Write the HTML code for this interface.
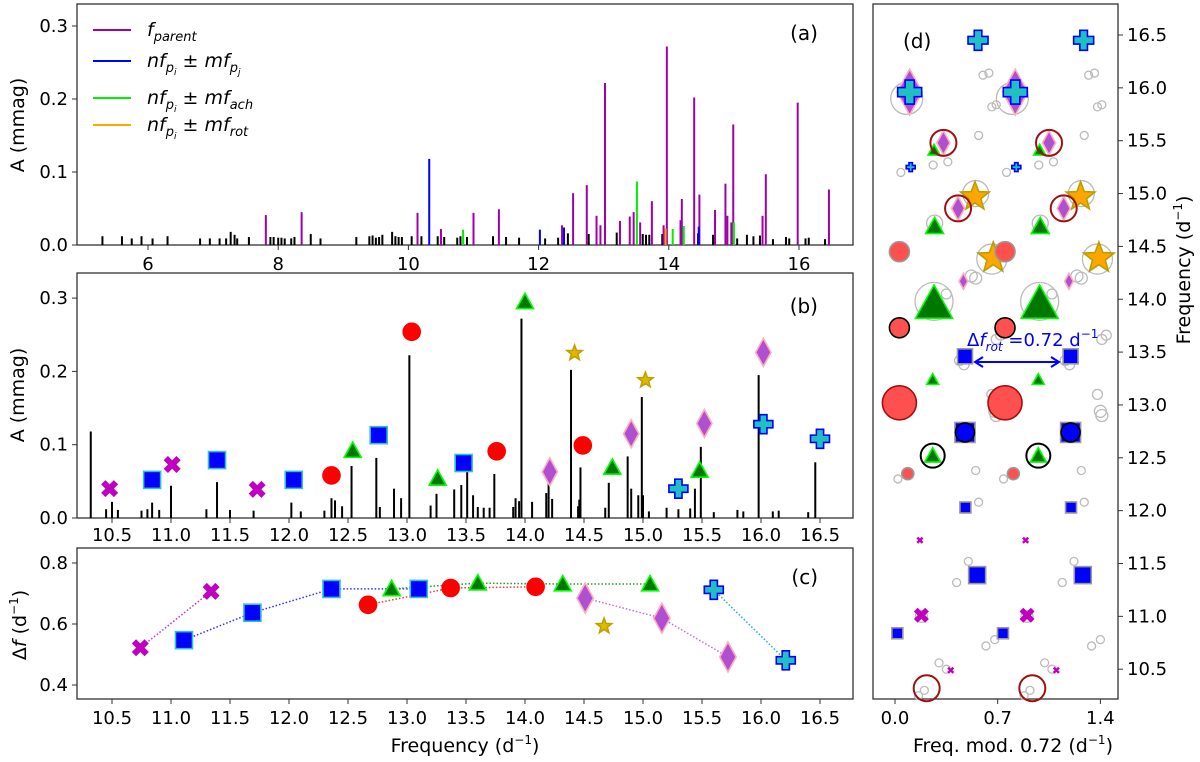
<!DOCTYPE html>
<html><head><meta charset="utf-8">
<style>
html,body{margin:0;padding:0;background:#fff;}
svg{display:block;font-family:"DejaVu Sans","Liberation Sans",sans-serif;}
</style></head>
<body>
<svg id="fig" width="1200" height="762" viewBox="0 0 1200 762" xmlns="http://www.w3.org/2000/svg">
<g id="gA"></g>
<g id="gB"></g>
<g id="gC"></g>
<g id="gD"></g>
<g font-size="19" font-style="italic">
  <line x1="93" y1="30" x2="131" y2="30" stroke="#a000a8" stroke-width="2"/>
  <text x="147" y="36">f<tspan font-size="13" dy="5">parent</tspan></text>
  <line x1="93" y1="61" x2="131" y2="61" stroke="#0000ff" stroke-width="2"/>
  <text x="147" y="67">nf<tspan font-size="13" dy="5">p</tspan><tspan font-size="9" dy="3">i</tspan><tspan font-style="normal" dy="-8"> ± </tspan>mf<tspan font-size="13" dy="5">p</tspan><tspan font-size="9" dy="3">j</tspan></text>
  <line x1="93" y1="98" x2="131" y2="98" stroke="#00ee00" stroke-width="2"/>
  <text x="147" y="104">nf<tspan font-size="13" dy="5">p</tspan><tspan font-size="9" dy="3">i</tspan><tspan font-style="normal" dy="-8"> ± </tspan>mf<tspan font-size="13" dy="5">ach</tspan></text>
  <line x1="93" y1="125" x2="131" y2="125" stroke="#ffa500" stroke-width="2"/>
  <text x="147" y="131">nf<tspan font-size="13" dy="5">p</tspan><tspan font-size="9" dy="3">i</tspan><tspan font-style="normal" dy="-8"> ± </tspan>mf<tspan font-size="13" dy="5">rot</tspan></text>
</g>
</svg>
<script>
// ---------- data ----------
const otherFreq = [5.3,5.6,5.75,5.9,6.07,6.3,6.8,6.95,7.1,7.2,7.27,7.33,7.37,7.55,7.88,7.93,8.0,8.05,8.1,8.2,8.25,8.5,8.65,9.2,9.4,9.45,9.5,9.55,9.6,9.75,9.8,9.85,9.9,10.05,10.2,10.45,10.55,10.75,10.8,10.9,11.3,11.5,11.7,12.1,12.3,12.45,12.77,13.2,13.6,13.65,13.7,13.9,14.45,14.68,15.05,15.2,15.3,15.4,15.6,15.8,15.85,16.1,16.15,16.4];
const otherAmp  = [0.012,0.012,0.009,0.012,0.009,0.012,0.009,0.009,0.009,0.009,0.018,0.014,0.009,0.011,0.011,0.011,0.010,0.010,0.009,0.009,0.011,0.015,0.009,0.011,0.012,0.013,0.010,0.011,0.014,0.018,0.012,0.011,0.011,0.012,0.012,0.012,0.011,0.010,0.012,0.011,0.012,0.011,0.010,0.009,0.010,0.016,0.015,0.017,0.015,0.014,0.014,0.015,0.016,0.014,0.009,0.014,0.012,0.013,0.008,0.011,0.009,0.009,0.010,0.008];
const parentFreq = [7.81,8.36,10.14,10.50,11.0,11.39,12.36,12.53,12.74,12.89,12.95,13.02,13.25,13.40,13.46,13.56,13.74,13.92,13.97,14.18,14.20,14.39,14.47,14.71,14.87,14.90,14.96,14.99,15.44,15.49,15.98,16.46];
const parentAmp  = [0.041,0.045,0.044,0.022,0.044,0.049,0.027,0.071,0.082,0.040,0.027,0.222,0.033,0.039,0.045,0.031,0.060,0.027,0.272,0.034,0.063,0.202,0.069,0.048,0.084,0.040,0.031,0.165,0.040,0.097,0.195,0.076];
const pjFreq = [10.32,12.02,12.39,14.46];
const pjAmp  = [0.118,0.021,0.024,0.025];
const achFreq = [10.84,13.51,14.06,14.23,15.0];
const achAmp  = [0.021,0.087,0.022,0.026,0.031];
const rotFreq = [13.95];
const rotAmp  = [0.023];
// panel b markers
const bX = [[10.48,0.040],[11.01,0.073],[11.73,0.039]];
const bSq = [[10.84,0.052],[11.39,0.079],[12.04,0.052],[12.76,0.113],[13.48,0.075]];
const bCi = [[12.36,0.058],[13.04,0.254],[13.76,0.091],[14.49,0.099]];
const bTr = [[12.54,0.092],[13.26,0.054],[14.0,0.295],[14.74,0.069],[15.48,0.065]];
const bSt = [[14.42,0.225],[15.02,0.188]];
const bDi = [[14.21,0.063],[14.9,0.115],[15.52,0.129],[16.02,0.226]];
const bPl = [[15.3,0.040],[16.02,0.128],[16.5,0.108]];
// panel c spacing
const cX = [[10.74,0.522],[11.34,0.707]];
const cSq = [[11.11,0.547],[11.69,0.637],[12.36,0.715],[13.10,0.715]];
const cCi = [[12.67,0.663],[13.37,0.718],[14.09,0.722]];
const cTr = [[12.87,0.715],[13.60,0.734],[14.32,0.731],[15.06,0.731]];
const cSt = [[14.67,0.593]];
const cDi = [[14.51,0.685],[15.16,0.619],[15.72,0.492]];
const cPl = [[15.60,0.712],[16.21,0.481]];
// panel d echelle: [freq mod, freq, type, size, style]
const dPts = [
 [0.10,15.96,"di",46,""],[0.10,15.96,"pl",24,""],[0.566,16.45,"pl",20,""],[0.107,15.25,"pl",9,""],
 [0.266,15.41,"tr",12,""],[0.33,15.48,"di",24,""],[0.545,14.97,"st",30,"o"],[0.43,14.86,"di",24,""],
 [0.27,14.69,"tr",18,""],[0.03,14.45,"ci",20,"p"],[0.67,14.39,"st",32,"o"],[0.466,14.17,"di",16,""],
 [0.266,13.96,"tr",37,""],[0.03,13.73,"ci",20,"k"],[0.477,13.46,"sq",15,"g"],[0.257,13.24,"tr",12,""],
 [0.03,13.02,"ci",34,"d"],[0.477,12.74,"sq",20,"g"],[0.477,12.74,"ci",19,"b"],[0.257,12.52,"tr",16,""],
 [0.087,12.35,"ci",12,"p"],[0.48,12.03,"sq",11,"g"],[0.17,11.72,"x",7,""],[0.56,11.39,"sq",17,"g"],
 [0.18,11.01,"x",15,""],[0.016,10.84,"sq",11,"g"],[0.38,10.49,"x",7,""]];
const dRings = [[0.33,15.48,13,"#a01010"],[0.43,14.86,13,"#a01010"],[0.257,12.52,12,"#000"],[0.216,10.32,13,"#a01010"]];
const dGrey = [[0.08,15.9,16],[0.60,16.12,4],[0.64,16.14,4],[0.66,15.82,4],[0.69,15.84,4],[0.57,15.55,4],[0.36,15.3,4],[0.26,15.27,4],[0.04,15.2,4],[0.55,15.0,13],[0.27,14.72,8],[0.66,14.38,15],[0.52,14.22,6],[0.55,14.2,6],[0.266,13.98,19],[0.35,14.05,5],[0.69,13.62,5],[0.72,13.66,5],[0.44,13.42,5],[0.47,13.38,5],[0.66,13.1,5],[0.68,12.94,6],[0.69,12.9,6],[0.55,12.38,4],[0.02,12.3,4],[0.57,12.08,4],[0.5,11.52,4],[0.42,11.32,4],[0.18,11.0,6],[0.68,10.78,4],[0.62,10.72,4],[0.30,10.56,4],[0.35,10.5,4],[0.2,10.3,4],[0.16,10.25,4]];
// ticks
const aXT = [6,8,10,12,14,16];
const aYT = [0.0,0.1,0.2,0.3];
const bXT = [10.5,11.0,11.5,12.0,12.5,13.0,13.5,14.0,14.5,15.0,15.5,16.0,16.5];
const cYT = [0.4,0.6,0.8];
const dXT = [0.0,0.7,1.4];
const dYT = [10.5,11.0,11.5,12.0,12.5,13.0,13.5,14.0,14.5,15.0,15.5,16.0,16.5];

// ---------- axes ----------
const xa = f => 148 + (f-6)*65.1;
const ya = a => 245 - a*730;
const xb = f => 112 + (f-10.5)*118;
const yb = a => 518 - a*733;
const yc = v => 563 - (v-0.8)*305;
const xd = m => 895 + m*146.7;
const yd = f => 35 + (16.5-f)*105.7;

const NS="http://www.w3.org/2000/svg";
function mk(parent, tag, attrs){const e=document.createElementNS(NS,tag);for(const k in attrs)e.setAttribute(k,attrs[k]);parent.appendChild(e);return e;}
const gA=document.getElementById('gA'),gB=document.getElementById('gB'),gC=document.getElementById('gC'),gD=document.getElementById('gD');

function frame(g,x1,y1,x2,y2){const r=mk(g,'rect',{x:x1,y:y1,width:x2-x1,height:y2-y1,fill:'none',stroke:'#333',"stroke-width":1.3});}
function tickLab(g,x,y,txt,anchor,name){const t=mk(g,'text',{x:x,y:y,"font-size":18,"text-anchor":anchor});t.textContent=txt;return t;}

const sty={
 x:{fill:"#c000c0",stroke:"#c000c0"}, sq:{fill:"#0000ff",stroke:"#30c0d0"}, ci:{fill:"#ff0000",stroke:"#ff0000"},
 tr:{fill:"#007800",stroke:"#00ff00"}, st:{fill:"#e0b800",stroke:"#c0a000"}, di:{fill:"#b050d0",stroke:"#ffb0c0"}, pl:{fill:"#20c0c0",stroke:"#0000ff"}};
const styD={o:{fill:"#ffa500",stroke:"#b8a000"},p:{fill:"#ff5050",stroke:"#999"},k:{fill:"#ff5050",stroke:"#000"},d:{fill:"#ff5050",stroke:"#a01010"},b:{fill:"#0000ff",stroke:"#000"},g:{fill:"#0000ff",stroke:"#999"}};
function marker(g,type,cx,cy,s,st){
 st=st||sty[type];let e;const h=s/2;
 if(type==="sq") e=mk(g,'rect',{x:cx-h,y:cy-h,width:s,height:s});
 else if(type==="ci") e=mk(g,'circle',{cx:cx,cy:cy,r:h});
 else if(type==="tr") e=mk(g,'polygon',{points:`${cx},${cy-h} ${cx+h},${cy+h*0.8} ${cx-h},${cy+h*0.8}`});
 else if(type==="di") e=mk(g,'polygon',{points:`${cx},${cy-h} ${cx+h*0.55},${cy} ${cx},${cy+h} ${cx-h*0.55},${cy}`});
 else if(type==="st"){let p=[];for(let i=0;i<10;i++){const r=i%2?h*0.42:h;const a=-Math.PI/2+i*Math.PI/5;p.push((cx+r*Math.cos(a)).toFixed(1)+","+(cy+r*Math.sin(a)).toFixed(1));}e=mk(g,'polygon',{points:p.join(" ")});}
 else if(type==="pl"){const a=h*0.38;e=mk(g,'polygon',{points:`${cx-a},${cy-h} ${cx+a},${cy-h} ${cx+a},${cy-a} ${cx+h},${cy-a} ${cx+h},${cy+a} ${cx+a},${cy+a} ${cx+a},${cy+h} ${cx-a},${cy+h} ${cx-a},${cy+a} ${cx-h},${cy+a} ${cx-h},${cy-a} ${cx-a},${cy-a}`});}
 else {const a=h*0.5;e=mk(g,'polygon',{points:`${cx-h},${cy-h+a} ${cx-h+a},${cy-h} ${cx},${cy-a} ${cx+h-a},${cy-h} ${cx+h},${cy-h+a} ${cx+a},${cy} ${cx+h},${cy+h-a} ${cx+h-a},${cy+h} ${cx},${cy+a} ${cx-h+a},${cy+h} ${cx-h},${cy+h-a} ${cx-a},${cy}`});}
 e.setAttribute('fill',st.fill);e.setAttribute('stroke',st.stroke);e.setAttribute('stroke-width',type==="x"?0:1.6);
 
 
 return e;
}

const groups=[[otherFreq,otherAmp,"#000"],[parentFreq,parentAmp,"#a000a8"],[pjFreq,pjAmp,"#0000ff"],[achFreq,achAmp,"#00ee00"],[rotFreq,rotAmp,"#ffa500"]];
// ---------- panel a ----------
frame(gA,77,4,853,245);
groups.forEach(([fs,as,c])=>fs.forEach((f,i)=>{const l=mk(gA,'line',{x1:xa(f),x2:xa(f),y1:245,y2:ya(as[i]),stroke:c,"stroke-width":2});
 
 }));
aXT.forEach(v=>{mk(gA,'line',{x1:xa(v),x2:xa(v),y1:245,y2:250,stroke:'#333'});tickLab(gA,xa(v),270,String(v),'middle','x-tick-label');});
aYT.forEach(v=>{mk(gA,'line',{x1:72,x2:77,y1:ya(v),y2:ya(v),stroke:'#333'});tickLab(gA,68,ya(v)+6,v.toFixed(1),'end','y-tick-label');});
let t=tickLab(gA,818,40,'(a)','end','panel-label');t.setAttribute('font-size','20');
t=tickLab(gA,0,0,'A (mmag)','middle','y-axis-title');t.setAttribute('transform','translate(24,125) rotate(-90)');t.setAttribute('font-size','19');

// ---------- panel b ----------
frame(gB,77,273,853,518);
groups.forEach(([fs,as])=>fs.forEach((f,i)=>{if(f<10.22)return;const l=mk(gB,'line',{x1:xb(f),x2:xb(f),y1:518,y2:yb(as[i]),stroke:'#000',"stroke-width":2});
 
 }));
[[bX,"x",17],[bSq,"sq",17],[bCi,"ci",17],[bTr,"tr",17],[bSt,"st",16],[bDi,"di",28],[bPl,"pl",19]].forEach(([arr,tp,s])=>arr.forEach(p=>marker(gB,tp,xb(p[0]),yb(p[1]),s)));
bXT.forEach(v=>{mk(gB,'line',{x1:xb(v),x2:xb(v),y1:518,y2:523,stroke:'#333'});tickLab(gB,xb(v),541,v.toFixed(1),'middle','x-tick-label');});
aYT.forEach(v=>{mk(gB,'line',{x1:72,x2:77,y1:yb(v),y2:yb(v),stroke:'#333'});tickLab(gB,68,yb(v)+6,v.toFixed(1),'end','y-tick-label');});
t=tickLab(gB,818,313,'(b)','end','panel-label');t.setAttribute('font-size','20');
t=tickLab(gB,0,0,'A (mmag)','middle','y-axis-title');t.setAttribute('transform','translate(24,395) rotate(-90)');t.setAttribute('font-size','19');

// ---------- panel c ----------
frame(gC,77,548,853,699);
const cSeries=[[cX,"x",17,"#cc30cc"],[cSq,"sq",17,"#3030ff"],[cCi,"ci",17,"#ff3030"],[cTr,"tr",17,"#20a020"],[cSt,"st",16,null],[cDi,"di",30,"#c070e0"],[cPl,"pl",19,"#20b0c0"]];
cSeries.forEach(([arr,tp,s,lc])=>{if(lc&&arr.length>1){const pl=mk(gC,'polyline',{points:arr.map(p=>xb(p[0])+","+yc(p[1])).join(" "),fill:'none',stroke:lc,"stroke-width":1.5,"stroke-dasharray":"1.5,2"});
 
 }});
cSeries.forEach(([arr,tp,s])=>arr.forEach(p=>marker(gC,tp,xb(p[0]),yc(p[1]),s)));
bXT.forEach(v=>{mk(gC,'line',{x1:xb(v),x2:xb(v),y1:699,y2:704,stroke:'#333'});tickLab(gC,xb(v),724,v.toFixed(1),'middle','x-tick-label');});
cYT.forEach(v=>{mk(gC,'line',{x1:72,x2:77,y1:yc(v),y2:yc(v),stroke:'#333'});tickLab(gC,68,yc(v)+6,v.toFixed(1),'end','y-tick-label');});
t=tickLab(gC,818,584,'(c)','end','panel-label');t.setAttribute('font-size','20');
t=tickLab(gC,465,752,'','middle','x-axis-title');t.setAttribute('font-size','19');t.innerHTML='Frequency (d<tspan font-size="12" dy="-8">−1</tspan><tspan dy="8">)</tspan>';
t=tickLab(gC,0,0,'','middle','y-axis-title');t.setAttribute('transform','translate(26,625) rotate(-90)');t.setAttribute('font-size','19');t.innerHTML='Δ<tspan font-style="italic">f</tspan> (d<tspan font-size="12" dy="-8">−1</tspan><tspan dy="8">)</tspan>';

// ---------- panel d ----------
frame(gD,873,4,1118,699);
[0,0.72].forEach(off=>{
 dGrey.forEach(p=>{const c=mk(gD,'circle',{cx:xd(p[0]+off),cy:yd(p[1]),r:p[2],fill:'none',stroke:'#bbb',"stroke-width":1.3});
  
  });
 dPts.forEach(p=>marker(gD,p[2],xd(p[0]+off),yd(p[1]),p[3],styD[p[4]]));
 dRings.forEach(p=>{const c=mk(gD,'circle',{cx:xd(p[0]+off),cy:yd(p[1]),r:p[2],fill:'none',stroke:p[3],"stroke-width":2});
  
  });
});
dXT.forEach(v=>{mk(gD,'line',{x1:xd(v),x2:xd(v),y1:699,y2:704,stroke:'#333'});tickLab(gD,xd(v),724,v.toFixed(1),'middle','x-tick-label');});
dYT.forEach(v=>{mk(gD,'line',{x1:1118,x2:1123,y1:yd(v),y2:yd(v),stroke:'#333'});tickLab(gD,1127,yd(v)+6,v.toFixed(1),'start','y-tick-label');});
t=tickLab(gD,903,48,'(d)','start','panel-label');t.setAttribute('font-size','20');
t=tickLab(gD,1013,752,'','middle','x-axis-title');t.setAttribute('font-size','19');t.innerHTML='Freq. mod. 0.72 (d<tspan font-size="12" dy="-8">−1</tspan><tspan dy="8">)</tspan>';
t=tickLab(gD,0,0,'','middle','y-axis-title');t.setAttribute('transform','translate(1190,270) rotate(-90)');t.setAttribute('font-size','19');t.innerHTML='Frequency (d<tspan font-size="12" dy="-8">−1</tspan><tspan dy="8">)</tspan>';
t=tickLab(gD,967,346,'','start','rotation-spacing-annotation');t.setAttribute('fill','#0000ff');t.setAttribute('font-size','18');t.innerHTML='Δ<tspan font-style="italic">f</tspan><tspan font-size="12" dy="5" font-style="italic">rot</tspan><tspan dy="-5"> =0.72 d</tspan><tspan font-size="12" dy="-8">−1</tspan>';
const ar=mk(gD,'g',{stroke:'#0000ff',"stroke-width":2,fill:'none'});


mk(ar,'line',{x1:975,y1:362,x2:1059,y2:362});
mk(ar,'polyline',{points:"983,357 975,362 983,367"});
mk(ar,'polyline',{points:"1051,357 1059,362 1051,367"});
</script>
</body></html>
